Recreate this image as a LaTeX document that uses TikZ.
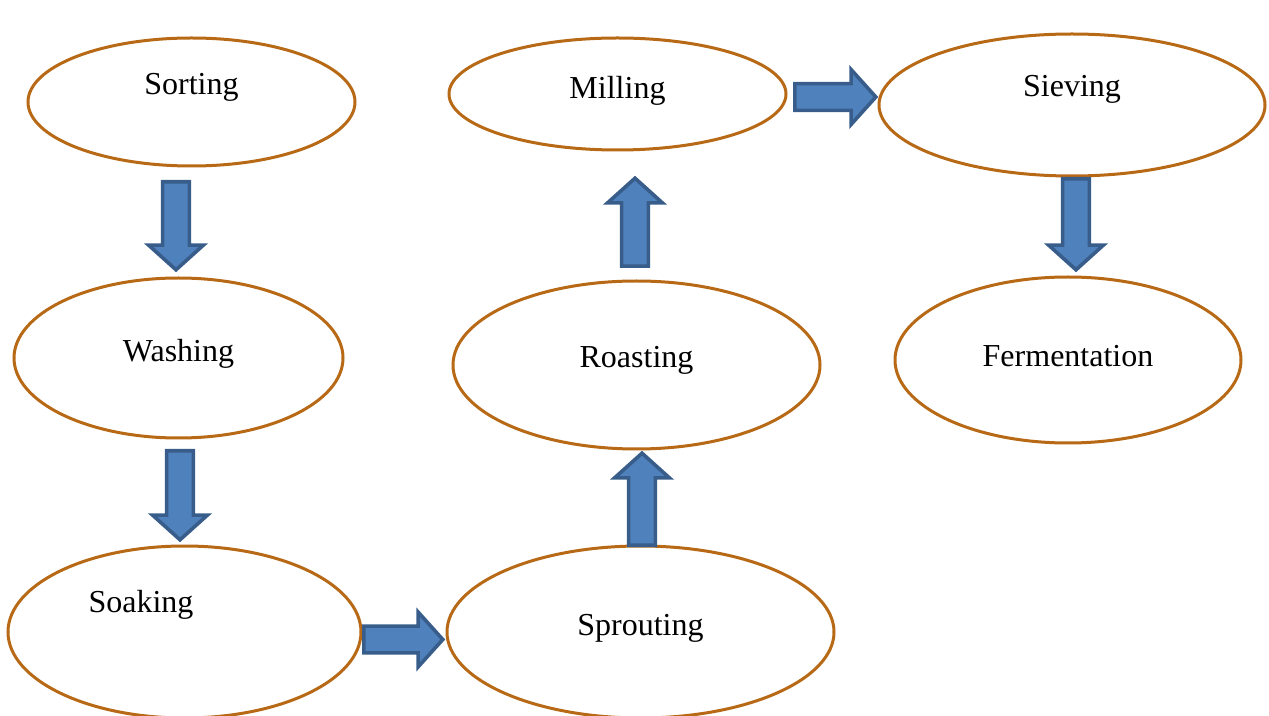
\documentclass[tikz,border=0pt]{standalone}
\usepackage{fontspec}
\setmainfont{Liberation Serif}
\usetikzlibrary{shapes.geometric,shapes.arrows}
\definecolor{stageline}{RGB}{183,105,22}
\definecolor{arrowfill}{RGB}{79,129,189}
\definecolor{arrowline}{RGB}{56,93,138}
\begin{document}
\begin{tikzpicture}[x=0.5pt,y=-0.5pt,
  stage/.style={ellipse,draw=stageline,line width=1.5pt,inner sep=0pt},
  flow/.style={single arrow,draw=arrowline,fill=arrowfill,line width=1.8pt,
    inner xsep=0pt,inner ysep=5.8pt,single arrow head extend=7pt,
    single arrow tip angle=96,anchor=tail},
  every label/.style={font=\fontsize{16}{19}\selectfont}]
\useasboundingbox (0,0) rectangle (1269,716);
%first column
\node[stage,minimum width=163.5pt,minimum height=64pt,label={[yshift=7.5pt]center:Sorting}] (sorting) at (191.5,102) {};
\node[stage,minimum width=164.5pt,minimum height=80pt,label={[yshift=2pt]center:Washing}] (washing) at (178.5,358) {};
\node[stage,minimum width=176.5pt,minimum height=86pt,label={[xshift=-21.75pt,yshift=13.5pt]center:Soaking}] (soaking) at (184.5,632) {};
%second column
\node[stage,minimum width=193.5pt,minimum height=86pt,label={[yshift=2pt]center:Sprouting}] (sprouting) at (640.5,632) {};
\node[stage,minimum width=183.5pt,minimum height=84pt,label={[yshift=2.5pt]center:Roasting}] (roasting) at (636.5,365) {};
\node[stage,minimum width=168.5pt,minimum height=56pt,label={[yshift=1.5pt]center:Milling}] (milling) at (617.5,94) {};
%third column
\node[stage,minimum width=193pt,minimum height=71pt,label={[yshift=8pt]center:Sieving}] (sieving) at (1072,105) {};
\node[stage,minimum width=173pt,minimum height=83pt,label={[yshift=2pt]center:Fermentation}] (fermentation) at (1068,360) {};
%arrows
\node[flow,rotate=-90,minimum height=44pt] (sortwash) at (176,180) {};
\node[flow,rotate=-90,minimum height=44.5pt] (washsoak) at (180,449) {};
\node[flow,minimum height=39.5pt] (soaksprout) at (362,639.5) {};
\node[flow,rotate=90,minimum height=46pt] (sproutroast) at (642,547) {};
\node[flow,rotate=90,minimum height=44pt] (roastmill) at (635,268) {};
\node[flow,minimum height=40.5pt] (millsieve) at (793,97) {};
\node[flow,rotate=-90,minimum height=45.5pt] (sievefer) at (1076,177) {};
\end{tikzpicture}
\end{document}
